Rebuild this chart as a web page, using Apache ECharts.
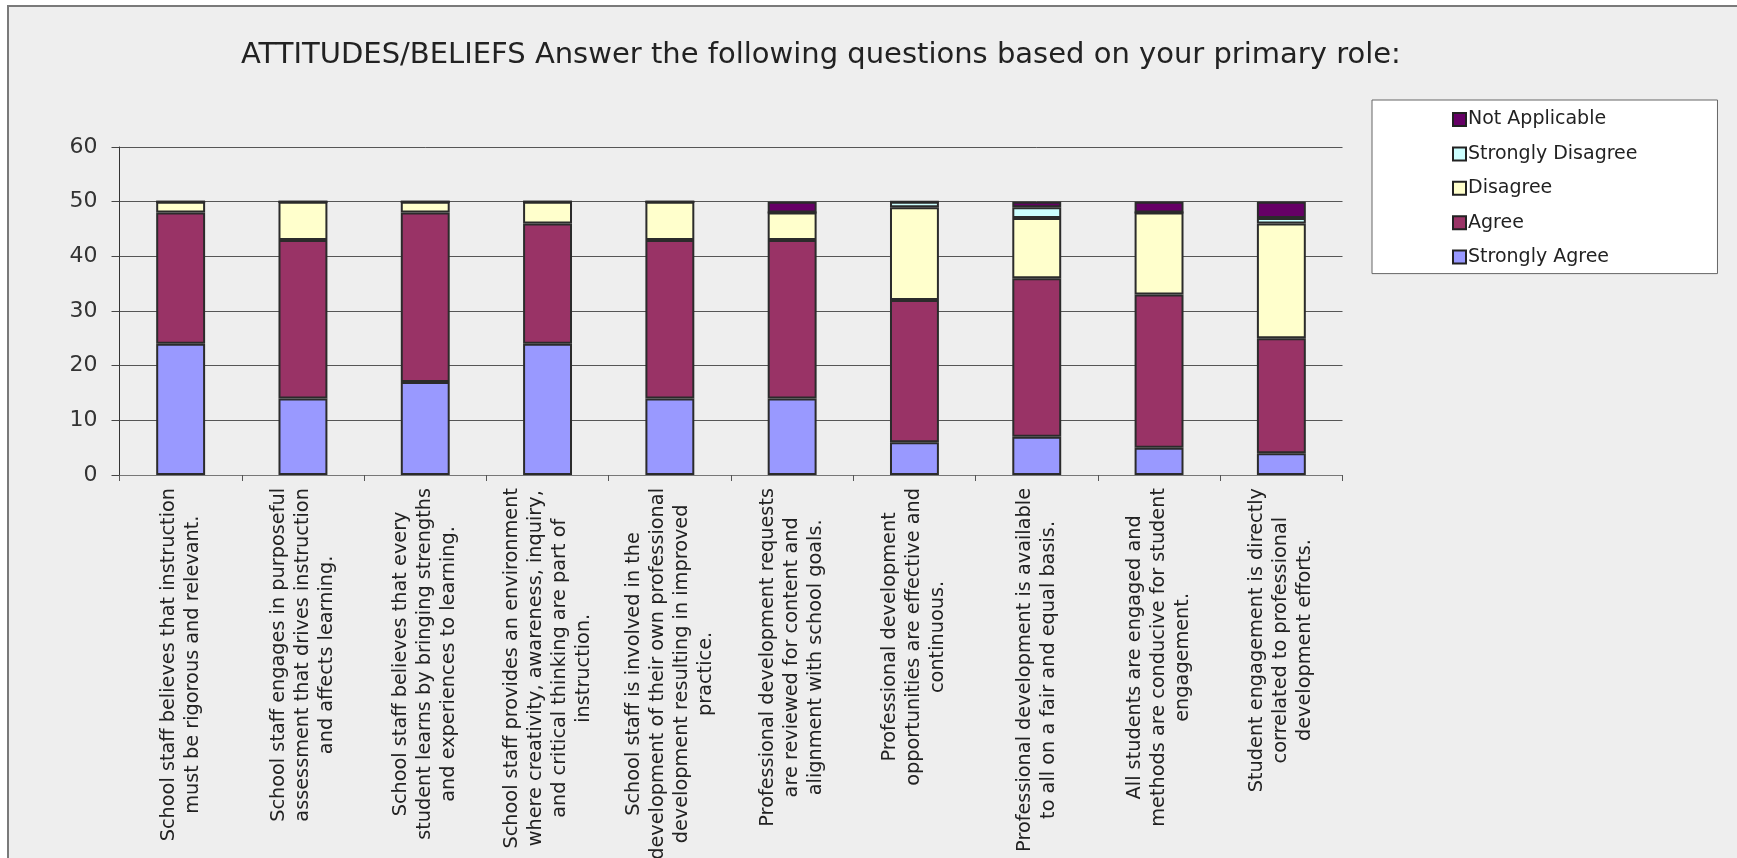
<!DOCTYPE html>
<html>
<head>
<meta charset="utf-8">
<style>
  html, body { margin: 0; padding: 0; background: #ffffff; }
  #chart { width: 1737px; height: 858px; }
</style>
<script src="https://cdn.jsdelivr.net/npm/echarts@6/dist/echarts.min.js"></script>
</head>
<body>
<div id="chart"></div>
<script>
// Survey statements (line breaks as wrapped under the axis)
const categories = [
  'School staff believes that instruction\nmust be rigorous and relevant.',
  'School staff engages in purposeful\nassessment that drives instruction\nand affects learning.',
  'School staff believes that every\nstudent learns by bringing strengths\nand experiences to learning.',
  'School staff provides an environment\nwhere creativity, awareness, inquiry,\nand critical thinking are part of\ninstruction.',
  'School staff is involved in the\ndevelopment of their own professional\ndevelopment resulting in improved\npractice.',
  'Professional development requests\nare reviewed for content and\nalignment with school goals.',
  'Professional development\nopportunities are effective and\ncontinuous.',
  'Professional development is available\nto all on a fair and equal basis.',
  'All students are engaged and\nmethods are conducive for student\nengagement.',
  'Student engagement is directly\ncorrelated to professional\ndevelopment efforts.'
];

// Response counts per statement
const stronglyAgree     = [24, 14, 17, 24, 14, 14,  6,  7,  5,  4];
const agree             = [24, 29, 31, 22, 29, 29, 26, 29, 28, 21];
const disagree          = [ 2,  7,  2,  4,  7,  5, 17, 11, 15, 21];
const stronglyDisagree  = [ 0,  0,  0,  0,  0,  0,  1,  2,  0,  1];
const notApplicable     = [ 0,  0,  0,  0,  0,  2,  0,  1,  2,  3];

const yTicks = { min: 0, max: 60, interval: 10 };

const FONT = '"DejaVu Sans", Verdana, sans-serif';

const seriesDefs = [
  { name: 'Strongly Agree',    data: stronglyAgree,    color: '#9999FF' },
  { name: 'Agree',             data: agree,            color: '#993366' },
  { name: 'Disagree',          data: disagree,         color: '#FFFFCC' },
  { name: 'Strongly Disagree', data: stronglyDisagree, color: '#CCFFFF' },
  { name: 'Not Applicable',    data: notApplicable,    color: '#660066' }
];

const chart = echarts.init(document.getElementById('chart'), null, { renderer: 'canvas' });

chart.setOption({
  animation: false,
  backgroundColor: 'transparent',
  textStyle: { fontFamily: FONT },
  graphic: [{
    type: 'rect',
    silent: true,
    z: -10,
    shape: { x: 8, y: 6, width: 1760, height: 900 },
    style: { fill: '#EEEEEE', stroke: '#7a7a7a', lineWidth: 2 }
  }],
  title: {
    text: 'ATTITUDES/BELIEFS Answer the following questions based on your primary role:',
    left: 241,
    top: 41,
    padding: 0,
    textStyle: { fontFamily: FONT, fontSize: 29, fontWeight: 'normal', color: '#222' }
  },
  legend: {
    orient: 'vertical',
    left: 1372,
    top: 100,
    padding: [10, 80, 7, 80],
    backgroundColor: '#ffffff',
    borderColor: '#666',
    borderWidth: 1,
    borderRadius: 0,
    itemWidth: 13,
    itemHeight: 13,
    itemGap: 15.4,
    icon: 'rect',
    data: ['Not Applicable', 'Strongly Disagree', 'Disagree', 'Agree', 'Strongly Agree'],
    itemStyle: { borderColor: '#222', borderWidth: 2 },
    textStyle: { fontFamily: FONT, fontSize: 19, color: '#222', padding: [0, 0, 0, -3] }
  },
  grid: {
    left: 119.5,
    right: 394.5,
    top: 147,
    bottom: 383,
    containLabel: false,
    outerBoundsMode: 'none'
  },
  xAxis: {
    type: 'category',
    data: categories,
    boundaryGap: true,
    axisLine: { show: true, lineStyle: { color: '#777', width: 1 } },
    axisTick: { show: true, alignWithLabel: false, length: 6, lineStyle: { color: '#555' } },
    axisLabel: {
      interval: 0,
      rotate: 90,
      margin: 13,
      hideOverlap: false,
      formatter: function (v) {
        return v.split('\n').map(function (l) { return '{c|' + l + '}'; }).join('\n');
      },
      rich: {
        c: { align: 'center', fontFamily: FONT, fontSize: 19.3, lineHeight: 24, color: '#222' }
      }
    },
    splitLine: { show: false }
  },
  yAxis: {
    type: 'value',
    min: yTicks.min,
    max: yTicks.max,
    interval: yTicks.interval,
    axisLine: { show: true, lineStyle: { color: '#333', width: 1 } },
    axisTick: { show: true, inside: false, length: 8, lineStyle: { color: '#444' } },
    axisLabel: { margin: 22, fontFamily: FONT, fontSize: 22, color: '#333' },
    splitLine: { show: true, lineStyle: { color: '#555', width: 1 } }
  },
  series: seriesDefs.map(function (s) {
    return {
      name: s.name,
      type: 'bar',
      stack: 'total',
      barWidth: '40%',
      data: s.data,
      itemStyle: { color: s.color, borderColor: '#2b2b2b', borderWidth: 2 },
      emphasis: { disabled: true }
    };
  })
});
</script>
</body>
</html>
